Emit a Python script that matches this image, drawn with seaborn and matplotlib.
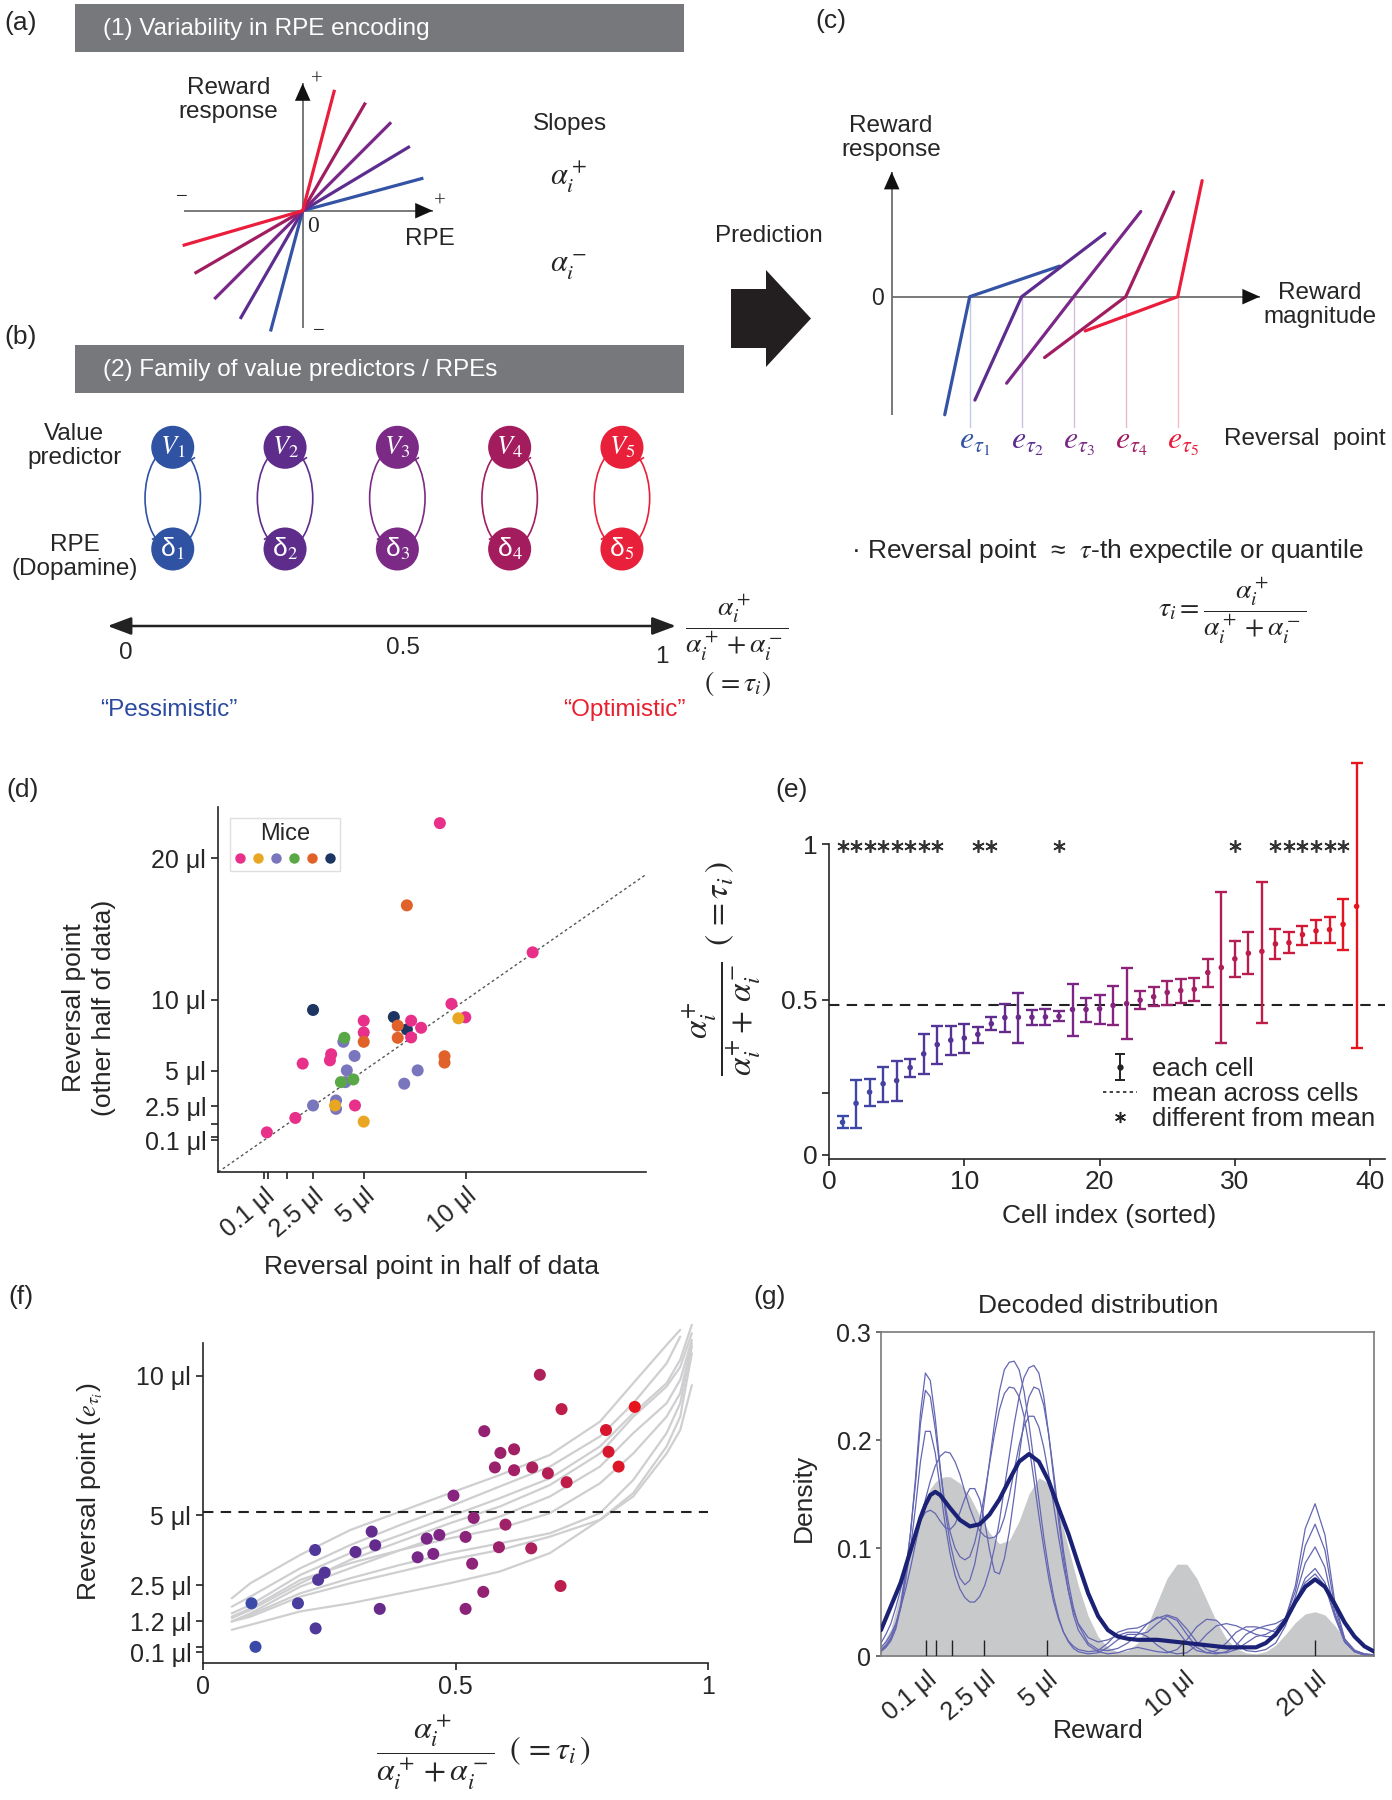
import numpy as np
import pandas as pd
import seaborn as sns
import matplotlib.pyplot as plt
from matplotlib.colors import LinearSegmentedColormap
from matplotlib.patches import Rectangle, Ellipse, FancyArrow
from matplotlib.lines import Line2D

sns.set_style('ticks')
plt.rcParams['font.family'] = ['Liberation Sans', 'DejaVu Sans']
plt.rcParams['mathtext.fontset'] = 'stix'
plt.rcParams['axes.linewidth'] = 1.2

W, H = 1392, 1800

# ---------------- schematic data (a)-(c) ----------------
five_colors = ['#3453a5', '#5c2d8f', '#7a2888', '#a01d60', '#ea1d3c']
node_colors = ['#2f52a3', '#5e2d8c', '#7b2a85', '#a31c5e', '#e8203a']
schema_tau = [0.1, 0.3, 0.5, 0.7, 0.9]
a_slope_pos = [0.27, 0.60, 1.00, 1.72, 3.80]
a_slope_neg = [3.75, 1.73, 1.00, 0.58, 0.29]
c_reversal = [1.5, 2.5, 3.5, 4.5, 5.5]
c_slope_pos = [0.34, 0.76, 1.27, 2.19, 4.75]
c_slope_neg = [4.73, 2.21, 1.29, 0.75, 0.37]
c_reach_pos = [1.73, 1.60, 1.29, 0.92, 0.47]
c_reach_neg = [0.48, 0.90, 1.29, 1.56, 1.78]

# ---------------- (d) split-half reversal points ----------------
mouse_ids = ['m1', 'm2', 'm3', 'm4', 'm5', 'm6']
mouse_colors = ['#e8308a', '#e8a623', '#7a76bd', '#5aa845', '#e0622a', '#1c3563']
d_mouse = (['m3'] * 9 + ['m6'] * 3 + ['m1'] * 15 + ['m5'] * 6 + ['m2'] * 3 + ['m4'] * 3)
d_x = [3.99, 4.54, 4.16, 4.09, 6.98, 7.64, 2.50, 3.63, 3.63,
       2.50, 6.47, 7.11,
       8.73, 13.29, 9.30, 9.98, 7.32, 7.81, 7.32, 4.99, 4.99, 3.39, 3.33, 1.99, 4.56, 1.63, 0.23,
       7.11, 6.66, 6.66, 4.99, 8.96, 8.96,
       9.64, 3.58, 4.99,
       4.04, 3.87, 4.48]
d_y = [7.04, 6.04, 5.02, 4.19, 4.08, 5.02, 2.54, 2.89, 2.30,
       9.29, 8.79, 7.91,
       22.49, 13.36, 9.72, 8.77, 8.53, 8.03, 7.35, 8.53, 7.70, 6.16, 5.73, 5.50, 2.54, 1.66, 0.64,
       16.68, 8.18, 7.32, 7.04, 6.02, 5.57,
       8.70, 2.54, 1.40,
       7.32, 4.19, 4.38]
reward_ticks = [0.1, 0.3, 1.2, 2.5, 5, 10, 20]

# ---------------- (e) tau per cell ----------------
e_cells = list(range(1, 40))
e_mid = [0.105, 0.166, 0.202, 0.229, 0.239, 0.281, 0.325, 0.355, 0.369, 0.376, 0.388, 0.422, 0.442,
         0.443, 0.443, 0.444, 0.446, 0.468, 0.468, 0.470, 0.481, 0.487, 0.498, 0.509, 0.523, 0.529,
         0.533, 0.587, 0.603, 0.631, 0.649, 0.655, 0.679, 0.683, 0.709, 0.721, 0.725, 0.742, 0.800]
e_hi = [0.125, 0.242, 0.243, 0.283, 0.302, 0.307, 0.390, 0.415, 0.415, 0.421, 0.412, 0.444, 0.487,
        0.522, 0.465, 0.468, 0.462, 0.551, 0.506, 0.515, 0.544, 0.601, 0.526, 0.539, 0.559, 0.567,
        0.570, 0.631, 0.845, 0.689, 0.716, 0.879, 0.726, 0.718, 0.738, 0.757, 0.767, 0.825, 1.26]
e_lo = [0.086, 0.088, 0.157, 0.171, 0.174, 0.252, 0.260, 0.294, 0.321, 0.327, 0.361, 0.401, 0.394,
        0.361, 0.419, 0.419, 0.430, 0.383, 0.428, 0.420, 0.419, 0.374, 0.471, 0.478, 0.484, 0.489,
        0.494, 0.540, 0.361, 0.572, 0.581, 0.426, 0.629, 0.649, 0.677, 0.683, 0.683, 0.658, 0.345]
e_mean = 0.483
e_star_cells = [1, 2, 3, 4, 5, 6, 7, 8, 11, 12, 17, 30, 33, 34, 35, 36, 37, 38]

# ---------------- (f) reversal point vs tau ----------------
f_tau = [0.096, 0.104, 0.188, 0.223, 0.222, 0.228, 0.241, 0.302, 0.334, 0.341, 0.350, 0.425, 0.443,
         0.456, 0.468, 0.496, 0.520, 0.520, 0.533, 0.536, 0.555, 0.557, 0.578, 0.586, 0.589, 0.599,
         0.616, 0.616, 0.650, 0.652, 0.667, 0.683, 0.708, 0.710, 0.720, 0.798, 0.803, 0.823, 0.855]
f_rev = [1.85, 0.29, 1.85, 0.95, 3.76, 2.69, 2.95, 3.69, 4.42, 3.93, 1.65, 3.50, 4.17,
         3.62, 4.30, 5.71, 4.23, 1.65, 3.27, 4.91, 2.26, 8.02, 6.72, 3.86, 7.24, 4.67,
         7.37, 6.62, 3.82, 6.72, 10.04, 6.51, 2.47, 8.81, 6.19, 8.06, 7.28, 6.75, 8.89]
f_mean_rev = 5.11
f_curve_tau = [0.057, 0.094, 0.193, 0.292, 0.391, 0.489, 0.588, 0.687, 0.786, 0.852, 0.918, 0.945, 0.968]
f_curves = {
    'A': [2.03, 2.57, 3.59, 4.48, 5.14, 5.80, 6.45, 7.17, 8.36, 9.74, 11.11, 11.65, None],
    'B': [1.73, 2.09, 3.11, 3.94, 4.66, 5.32, 6.04, 6.75, 7.83, 9.02, 10.45, 11.41, None],
    'C': [1.49, 1.79, 2.87, 3.65, 4.30, 4.96, 5.62, 6.33, 7.47, 8.66, 9.74, 10.58, 11.83],
    'D': [1.32, 1.61, 2.57, 3.41, 4.07, 4.72, 5.32, 6.09, 7.22, 8.54, 9.62, 10.32, 11.53],
    'E': [1.20, 1.49, 2.45, 3.11, 3.76, 4.36, 4.96, 5.68, 6.75, 7.95, 9.02, 9.86, 11.29],
    'F': [1.37, 1.67, 2.69, 3.29, 3.76, 4.18, 4.54, 5.08, 6.15, 7.22, 8.54, 9.38, 11.17],
    'G': [1.20, 1.44, 2.21, 2.75, 3.23, 3.65, 4.00, 4.36, 5.08, 6.27, 7.95, 9.02, 11.05],
    'H': [1.20, 1.37, 2.09, 2.57, 2.99, 3.41, 3.76, 4.24, 4.84, 5.80, 7.47, 8.54, 10.81],
    'I': [0.90, 1.08, 1.56, 1.85, 2.21, 2.57, 2.99, 3.65, 4.84, 5.68, 7.22, 8.06, 9.67],
}

# ---------------- (g) decoded distribution ----------------
# x is position along the (warped) reward axis, 0-100 % of the axis width
g_level_pos = [9.12, 11.21, 14.33, 20.94, 33.59, 61.28, 88.04]
g_label_pos = [9.12, 20.94, 33.59, 61.28, 88.04]
g_labels = ['0.1 μl', '2.5 μl', '5 μl', '10 μl', '20 μl']
g_pos = [0, 2, 4, 6, 8, 9, 10, 11, 12, 13, 14] + list(range(16, 101, 2))
g_true = [0.008, 0.025, 0.06, 0.10, 0.135, 0.146, 0.155, 0.161, 0.165, 0.166, 0.166,
          0.160, 0.148, 0.130, 0.114, 0.104, 0.107, 0.125, 0.150, 0.165, 0.160, 0.135, 0.100,
          0.065, 0.037, 0.018, 0.008, 0.004, 0.005, 0.012, 0.028, 0.050, 0.072, 0.085, 0.085,
          0.072, 0.052, 0.032, 0.016, 0.007, 0.003, 0.002, 0.004, 0.010, 0.020, 0.031, 0.039,
          0.041, 0.038, 0.028, 0.016, 0.007, 0.002, 0.0]
g_mean = [0.024, 0.046, 0.068, 0.098, 0.128, 0.140, 0.149, 0.152, 0.149, 0.143, 0.137,
          0.126, 0.120, 0.122, 0.131, 0.145, 0.163, 0.180, 0.187, 0.180, 0.162, 0.137, 0.113,
          0.085, 0.058, 0.037, 0.024, 0.018, 0.016, 0.015, 0.015, 0.015, 0.014, 0.013, 0.012,
          0.011, 0.010, 0.009, 0.008, 0.008, 0.008, 0.008, 0.012, 0.020, 0.033, 0.050, 0.064,
          0.071, 0.064, 0.048, 0.031, 0.018, 0.009, 0.004]
thin_pos = list(range(0, 41)) + list(range(42, 101, 2))
thin_curves = {
    't1': [0.004, 0.008, 0.014, 0.025, 0.045, 0.075, 0.115, 0.165, 0.225, 0.262, 0.255, 0.22, 0.175,
           0.135, 0.105, 0.085, 0.072, 0.066, 0.07, 0.085, 0.11, 0.145, 0.18, 0.215, 0.245, 0.265,
           0.272, 0.273, 0.265, 0.245, 0.215, 0.18, 0.145, 0.11, 0.08, 0.055, 0.036, 0.022, 0.013,
           0.007, 0.004,
           0.002, 0.003, 0.008, 0.015, 0.02, 0.02, 0.022, 0.03, 0.037, 0.033, 0.02, 0.008, 0.003,
           0.002, 0.004, 0.01, 0.02, 0.025, 0.028, 0.03, 0.035, 0.065, 0.118, 0.141, 0.112, 0.05,
           0.016, 0.005, 0.002, 0.001],
    't2': [0.005, 0.009, 0.016, 0.028, 0.048, 0.078, 0.115, 0.16, 0.215, 0.246, 0.24, 0.21, 0.172,
           0.14, 0.115, 0.1, 0.092, 0.089, 0.092, 0.105, 0.125, 0.15, 0.178, 0.205, 0.228, 0.243,
           0.249, 0.248, 0.24, 0.222, 0.195, 0.163, 0.13, 0.1, 0.072, 0.05, 0.034, 0.022, 0.014,
           0.009, 0.006,
           0.004, 0.005, 0.012, 0.022, 0.025, 0.026, 0.03, 0.035, 0.038, 0.035, 0.025, 0.013, 0.006,
           0.003, 0.003, 0.006, 0.012, 0.018, 0.02, 0.025, 0.035, 0.06, 0.102, 0.122, 0.098, 0.045,
           0.015, 0.005, 0.002, 0.001],
    't3': [0.006, 0.01, 0.017, 0.028, 0.045, 0.07, 0.1, 0.138, 0.18, 0.208, 0.208, 0.188, 0.155,
           0.122, 0.095, 0.075, 0.062, 0.054, 0.05, 0.05, 0.055, 0.065, 0.08, 0.1, 0.125, 0.155,
           0.185, 0.215, 0.24, 0.258, 0.267, 0.269, 0.262, 0.24, 0.205, 0.165, 0.125, 0.09, 0.06,
           0.038, 0.024,
           0.01, 0.004, 0.002, 0.003, 0.006, 0.008, 0.006, 0.004, 0.003, 0.006, 0.015, 0.027, 0.034,
           0.033, 0.024, 0.012, 0.005, 0.004, 0.006, 0.012, 0.028, 0.055, 0.086, 0.101, 0.082, 0.04,
           0.013, 0.004, 0.001, 0.0],
    't4': [0.012, 0.02, 0.03, 0.045, 0.062, 0.08, 0.098, 0.113, 0.125, 0.133, 0.135, 0.132, 0.125,
           0.119, 0.117, 0.122, 0.133, 0.146, 0.155, 0.155, 0.145, 0.125, 0.098, 0.078, 0.076, 0.09,
           0.115, 0.148, 0.185, 0.218, 0.24, 0.249, 0.247, 0.232, 0.205, 0.17, 0.132, 0.097, 0.068,
           0.045, 0.029,
           0.012, 0.006, 0.005, 0.007, 0.012, 0.02, 0.03, 0.036, 0.034, 0.024, 0.012, 0.005, 0.003,
           0.005, 0.012, 0.022, 0.027, 0.027, 0.025, 0.022, 0.03, 0.05, 0.072, 0.081, 0.068, 0.038,
           0.013, 0.004, 0.001, 0.0],
    't5': [0.008, 0.013, 0.02, 0.03, 0.045, 0.062, 0.082, 0.104, 0.125, 0.145, 0.162, 0.176, 0.185,
           0.189, 0.188, 0.18, 0.168, 0.152, 0.137, 0.125, 0.116, 0.111, 0.109, 0.11, 0.115, 0.128,
           0.148, 0.172, 0.195, 0.213, 0.222, 0.222, 0.212, 0.193, 0.168, 0.14, 0.11, 0.083, 0.06,
           0.042, 0.03,
           0.017, 0.013, 0.015, 0.019, 0.022, 0.022, 0.018, 0.01, 0.004, 0.002, 0.003, 0.01, 0.02,
           0.028, 0.03, 0.028, 0.024, 0.02, 0.018, 0.018, 0.03, 0.05, 0.068, 0.076, 0.065, 0.036,
           0.013, 0.004, 0.001, 0.0],
}

cmap = LinearSegmentedColormap.from_list('pess_opt', ['#3b4aa8', '#5a2e90', '#822483', '#b01f58', '#e8141c'])

# ======================================================================
fig = plt.figure(figsize=(W / 100, H / 100), dpi=100)


def px_rect(x0, y0, x1, y1):
    return [x0 / W, 1 - y1 / H, (x1 - x0) / W, (y1 - y0) / H]


ov = fig.add_axes([0, 0, 1, 1])
ov.set_xlim(0, W)
ov.set_ylim(H, 0)
ov.set_axis_off()


def T(x, y, s, fs=17.5, ha='center', va='center', **kw):
    return ov.text(x, y, s, fontsize=fs, ha=ha, va=va, **kw)


def put_label(axis, x, y):
    axis.set_label_coords(x, y, transform=ov.transData)
    axis.label.set_verticalalignment('center')
    axis.label.set_horizontalalignment('center')


def arrow_axis(ax, start, tip, scale=14):
    ax.plot([start[0], tip[0]], [start[1], tip[1]], color='#6d6e71', lw=1.3, solid_capstyle='butt', zorder=1)
    ax.annotate('', xy=tip, xytext=start,
                arrowprops=dict(arrowstyle='-|>,head_length=0.9,head_width=0.4', color='#111', lw=0,
                                mutation_scale=scale, shrinkA=0, shrinkB=0), zorder=2)


# panel letters
for lab, x, y in [('(a)', 21, 23), ('(b)', 21, 337), ('(c)', 831, 21), ('(d)', 23, 790),
                  ('(e)', 792, 790), ('(f)', 21, 1297), ('(g)', 770, 1297)]:
    T(x, y, lab, fs=19)

# grey banners
for top, title in [(4, '(1) Variability in RPE encoding'), (345, '(2) Family of value predictors / RPEs')]:
    ov.add_patch(Rectangle((75, top), 609, 48, color='#77787b', lw=0))
    T(103, top + 25, title, ha='left', color='white')

# ---------------- (a) ----------------
axA = fig.add_axes(px_rect(150, 60, 470, 350))
axA.set_xlim(-152.7, 167.3)
axA.set_ylim(-139.3, 150.7)
axA.set_axis_off()
arrow_axis(axA, (-118.8, 0), (130, 0))
arrow_axis(axA, (0, -117.6), (0, 127.4))
r = 125
for ap, an, col in zip(a_slope_pos, a_slope_neg, five_colors):
    xs = [-r / np.hypot(1, an), 0, r / np.hypot(1, ap)]
    ys = [-r * an / np.hypot(1, an), 0, r * ap / np.hypot(1, ap)]
    axA.plot(xs, ys, color=col, lw=2.3, solid_capstyle='butt', zorder=3)

T(228.7, 100, 'Reward\nresponse', linespacing=1.15)
for x, y, s in [(317, 80, '+'), (439.5, 202, '+'), (181.6, 197, '−'), (318.4, 331, '−')]:
    T(x, y, s, fs=15, family=['Liberation Serif'])
T(313, 227, '0', fs=17, family=['Liberation Serif'])
T(429.6, 239.3, 'RPE')
T(569.5, 124, 'Slopes')
T(568.6, 177, r'$\alpha_i^+$', fs=22)
T(568.6, 267, r'$\alpha_i^-$', fs=22)

# ---------------- (b) ----------------
axB = fig.add_axes(px_rect(90, 400, 700, 740))
yV, yD = 447.3, 549.0
for k, (t, col) in enumerate(zip(schema_tau, node_colors)):
    axB.add_patch(Ellipse((t, (yV + yD) / 2), width=0.0987, height=yD - yV, fill=False, ec=col, lw=1.2, zorder=1))
    axB.plot([t - 0.0317], [537.1], marker=(2, 0, -60), ms=6, mew=1.2, color=col, zorder=2)
    axB.plot([t + 0.0317], [459.2], marker=(2, 0, -60), ms=6, mew=1.2, color=col, zorder=2)
nodes = pd.DataFrame({'tau': schema_tau * 2, 'y': [yV] * 5 + [yD] * 5, 'k': list(range(5)) * 2})
sns.scatterplot(data=nodes, x='tau', y='y', hue='k', palette=node_colors, s=960, linewidth=0,
                legend=False, ax=axB, zorder=3)
axB.set_xlim(-0.04737, 1.03900)
axB.set_ylim(740, 400)
axB.set_axis_off()
for k, t in enumerate(schema_tau):
    axB.text(t, yV, rf'$V_{k + 1}$', color='white', fontsize=19, ha='center', va='center', zorder=4)
    axB.text(t, yD, f'δ$_{k + 1}$', color='white', fontsize=19, ha='center', va='center', zorder=4)
axB.annotate('', xy=(0.996, 626), xytext=(-0.016, 626),
             arrowprops=dict(arrowstyle='<|-|>,head_length=0.8,head_width=0.3', color='#222', lw=1.8,
                             mutation_scale=18, shrinkA=0, shrinkB=0))

T(74.4, 446, 'Value\npredictor', linespacing=1.15)
T(74.4, 557, 'RPE\n(Dopamine)', linespacing=1.15)
T(125.6, 653, '0')
T(402.6, 648, '0.5')
T(661.5, 657, '1')
T(737, 628, r'$\dfrac{\alpha_i^+}{\alpha_i^+ + \alpha_i^-}$', fs=20)
T(738, 683, r'$(\,=\tau_i)$', fs=20)
T(169, 710, '“Pessimistic”', color='#2b4aa0')
T(624.6, 710, '“Optimistic”', color='#e8202e')

# ---------------- (c) ----------------
ov.add_patch(FancyArrow(731, 318.5, 80, 0, width=59, head_width=97, head_length=45,
                        length_includes_head=True, color='#231f20', lw=0))
T(769, 236, 'Prediction')

axC = fig.add_axes(px_rect(860, 140, 1392, 470))
axC.set_xlim(-0.6096, 9.621)
axC.set_ylim(-3.333, 3.013)
axC.set_axis_off()
arrow_axis(axC, (0, -2.275), (0, 2.40))
arrow_axis(axC, (0, 0), (7.08, 0))
for k, (e, sp, sn, rp, rn, col) in enumerate(zip(c_reversal, c_slope_pos, c_slope_neg,
                                                c_reach_pos, c_reach_neg, five_colors)):
    axC.plot([e, e], [0, -2.5], color=col, alpha=0.3, lw=1, zorder=1)
    axC.plot([e - rn, e, e + rp], [-sn * rn, 0, sp * rp], color=col, lw=2.3, zorder=3)
    axC.text(e - 0.2, -2.82, rf'$e_{{\tau_{k + 1}}}$', color=col, fontsize=23, ha='left', va='center')

T(877.8, 298.5, '0', fs=16.5)
T(891, 138, 'Reward\nresponse', linespacing=1.15)
T(1320, 305, 'Reward\nmagnitude', linespacing=1.15)
T(1224, 438.5, 'Reversal  point', ha='left')
T(851, 551, '· Reversal point  ≈  $\\tau$-th expectile or quantile', ha='left', fs=19)
T(1232, 611, r'$\tau_i = \dfrac{\alpha_i^+}{\alpha_i^+ + \alpha_i^-}$', fs=20)

# ---------------- (d) ----------------
axD = fig.add_axes(px_rect(218, 807, 646, 1172))
dfd = pd.DataFrame({'x': d_x, 'y': d_y, 'mouse': d_mouse})
sns.scatterplot(data=dfd, x='x', y='y', hue='mouse', hue_order=mouse_ids, palette=mouse_colors,
                s=75, linewidth=0, legend=False, ax=axD, zorder=3)
axD.axline((0, 0), slope=1, color='#555555', lw=1, ls=(0, (2, 2)), zorder=2)
axD.set_xlim(-2.17, 18.86)
axD.set_ylim(-2.16, 23.63)
axD.set_xticks(reward_ticks[:6])
axD.set_xticklabels(['0.1 μl', '', '', '2.5 μl', '5 μl', '10 μl'], rotation=40, ha='right',
                    rotation_mode='anchor')
axD.set_yticks(reward_ticks)
axD.set_yticklabels(['0.1 μl', '', '', '2.5 μl', '5 μl', '10 μl', '20 μl'])
axD.tick_params(labelsize=18, length=5, width=1.2, color='#222')
sns.despine(ax=axD)
handles = [Line2D([], [], ls='none', marker='o', ms=7.5, mec='none', mfc=c) for c in mouse_colors]
axD.legend(handles, [''] * 6, ncol=6, title='Mice', title_fontsize=17, fontsize=10,
           handlelength=0.7, handletextpad=0.0, columnspacing=0.6, borderpad=0.35,
           loc='upper left', bbox_to_anchor=(0.029, 0.969), borderaxespad=0,
           frameon=True, fancybox=False, edgecolor='#d8d8d8')
axD.set_xlabel('Reversal point in half of data', fontsize=19)
axD.set_ylabel('Reversal point\n(other half of data)', fontsize=19, linespacing=1.35)
put_label(axD.xaxis, 432, 1267)
put_label(axD.yaxis, 89, 1008)

# ---------------- (e) ----------------
axE = fig.add_axes(px_rect(829, 751, 1385, 1158.6))
for c, m, lo, hi in zip(e_cells, e_mid, e_lo, e_hi):
    axE.errorbar(c, m, yerr=[[m - lo], [hi - m]], fmt='none', ecolor=cmap((c - 1) / 38),
                 elinewidth=1.7, capsize=4.5, capthick=1.7, zorder=2)
sns.scatterplot(x=e_cells, y=e_mid, hue=e_cells, palette=cmap, hue_norm=(1, 39), s=16,
                linewidth=0, legend=False, ax=axE, zorder=4)
axE.axhline(e_mean, color='#222', lw=1.5, ls=(0, (5, 3.5)), zorder=1)
axE.plot(e_star_cells, [0.995] * len(e_star_cells), ls='none', marker=(6, 2, 0), ms=9, mew=1.2,
         color='#333')
h_eb = axE.errorbar([np.nan], [np.nan], yerr=[[0.03], [0.03]], fmt='o', color='#222', ms=3.5,
                    capsize=3.5, elinewidth=1.4, capthick=1.4)
axE.set_xlim(0, 41.1)
axE.set_ylim(-0.012, 1.3)
axE.spines['left'].set_bounds(-0.012, 1.0)
sns.despine(ax=axE)
axE.set_xticks([0, 10, 20, 30, 40])
axE.set_yticks([0, 0.2, 0.5, 1])
axE.set_yticklabels(['0', '', '0.5', '1'])
axE.tick_params(labelsize=19, length=5, width=1.2, color='#222')
axE.legend([h_eb, Line2D([], [], ls=(0, (2, 2)), color='#222', lw=1.2),
            Line2D([], [], ls='none', marker=(6, 2, 0), color='#222', ms=8, mew=1.1)],
           ['each cell', 'mean across cells', 'different from mean'],
           loc='upper left', bbox_to_anchor=(0.493, 0.25), frameon=False, fontsize=18.5,
           handlelength=1.3, handletextpad=0.6, labelspacing=0.05, borderaxespad=0, borderpad=0)
axE.set_xlabel('Cell index (sorted)', fontsize=19)
axE.set_ylabel(r'$\dfrac{\alpha_i^{+}}{\alpha_i^{+}+\,\alpha_i^{-}}\;\;(\,=\tau_i\,)$', fontsize=24)
put_label(axE.xaxis, 1109, 1216)
put_label(axE.yaxis, 722, 969)

# ---------------- (f) ----------------
axF = fig.add_axes(px_rect(203, 1343, 708, 1663))
curve_df = pd.DataFrame([{'curve': k, 'tau': t, 'rev': v}
                         for k, vals in f_curves.items()
                         for t, v in zip(f_curve_tau, vals) if v is not None])
sns.lineplot(data=curve_df, x='tau', y='rev', units='curve', estimator=None, color='#cfcfd1',
             lw=1.6, legend=False, ax=axF)
for ln in axF.lines:
    ln.set_clip_on(False)
axF.axhline(f_mean_rev, color='#222', lw=1.5, ls=(0, (5, 3.5)), zorder=2)
sns.scatterplot(x=f_tau, y=f_rev, hue=f_tau, palette=cmap, hue_norm=(0.1, 0.86), s=75,
                linewidth=0, legend=False, ax=axF, zorder=3)
axF.set_xlim(0, 1)
axF.set_ylim(-0.29, 11.18)
axF.set_xticks([0, 0.5, 1])
axF.set_xticklabels(['0', '0.5', '1'])
axF.set_yticks([0.1, 0.3, 1.2, 2.5, 5, 10])
axF.set_yticklabels(['0.1 μl', '', '1.2 μl', '2.5 μl', '5 μl', '10 μl'])
axF.tick_params(labelsize=18, length=5, width=1.2, color='#222')
sns.despine(ax=axF)
axF.set_xlabel(r'$\dfrac{\alpha_i^+}{\alpha_i^+ + \alpha_i^-}\;\;(\,=\tau_i\,)$', fontsize=23)
axF.set_ylabel(r'Reversal point ($e_{\tau_i}$)', fontsize=19)
put_label(axF.xaxis, 484, 1752)
put_label(axF.yaxis, 90, 1492)

# ---------------- (g) ----------------
axG = fig.add_axes(px_rect(881, 1332, 1374.3, 1656))
axG.fill_between(g_pos, g_true, color='#c8c9cb', lw=0, zorder=1)
thin_df = pd.DataFrame([{'curve': k, 'pos': p, 'dens': v}
                        for k, vals in thin_curves.items() for p, v in zip(thin_pos, vals)])
sns.lineplot(data=thin_df, x='pos', y='dens', units='curve', estimator=None, color='#6466b2',
             lw=0.9, legend=False, ax=axG, zorder=2)
sns.lineplot(x=g_pos, y=g_mean, color='#1b2175', lw=3, ax=axG, zorder=3)
sns.rugplot(x=g_level_pos, height=0.05, color='#222', lw=1.8, ax=axG, zorder=4)
axG.set_xlim(0, 100)
axG.set_ylim(0, 0.3)
axG.set_yticks([0, 0.1, 0.2, 0.3])
axG.set_yticklabels(['0', '0.1', '0.2', '0.3'])
axG.set_xticks(g_label_pos)
axG.set_xticklabels(g_labels, rotation=40, ha='right', rotation_mode='anchor')
axG.tick_params(axis='x', length=0, pad=8)
axG.tick_params(labelsize=18, width=1.2, color='#555')
for sp in axG.spines.values():
    sp.set_color('#7a7a7a')
    sp.set_linewidth(1.2)
axG.set_xlabel('Reward', fontsize=19)
axG.set_ylabel('Density', fontsize=19)
put_label(axG.xaxis, 1098, 1731)
put_label(axG.yaxis, 804, 1498)
axG.set_title('Decoded distribution', fontsize=19, x=0.44, pad=14)

fig.savefig('out.png', dpi=100)
